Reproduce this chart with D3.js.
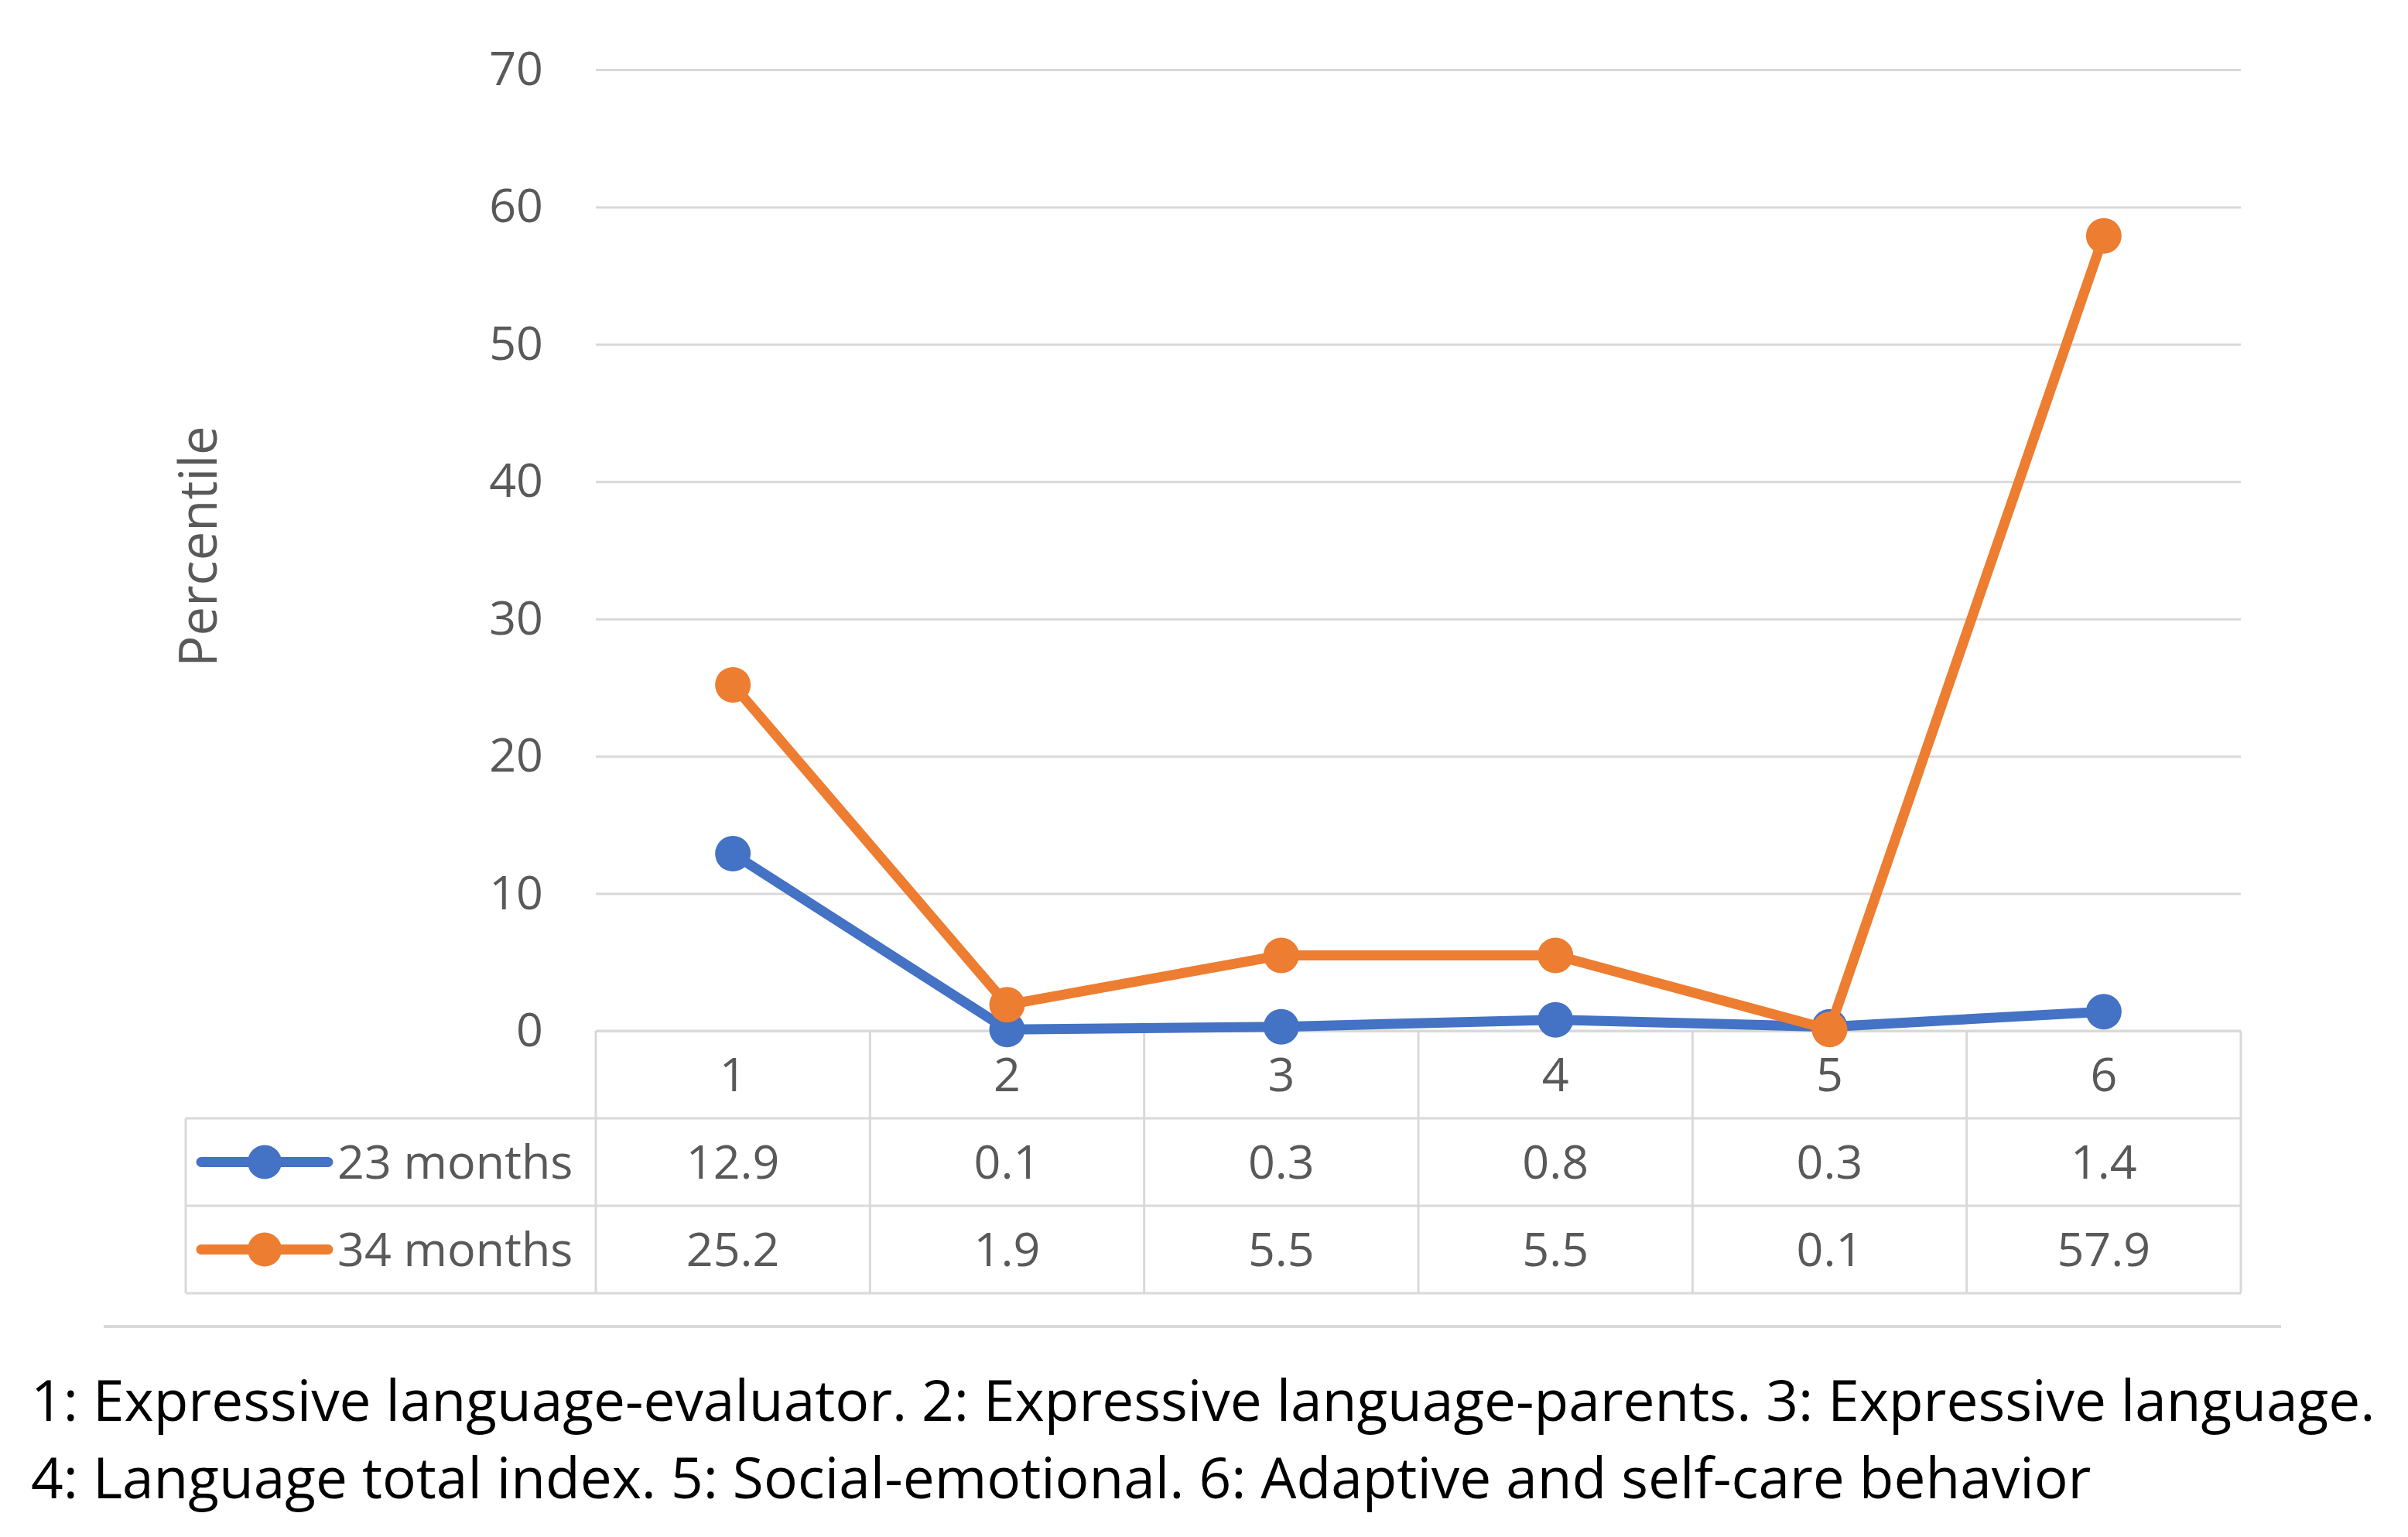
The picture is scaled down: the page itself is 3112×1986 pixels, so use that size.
<!DOCTYPE html>
<html>
<head>
<meta charset="utf-8">
<script src="https://cdn.jsdelivr.net/npm/d3@7"></script>
<style>
  body { margin: 0; background: #fff; }
  text { font-family: "Open Sans", "Noto Sans", sans-serif; }
</style>
</head>
<body>
<div id="chart"></div>
<script>
const categories = ['1', '2', '3', '4', '5', '6']
const seriesNames = ['23 months', '34 months']
const months23 = [12.9, 0.1, 0.3, 0.8, 0.3, 1.4]
const months34 = [25.2, 1.9, 5.5, 5.5, 0.1, 57.9]
const yTicks = [0, 10, 20, 30, 40, 50, 60, 70]
const footnote = [
  '1: Expressive language-evaluator. 2: Expressive language-parents. 3: Expressive language.',
  '4: Language total index. 5: Social-emotional. 6: Adaptive and self-care behavior'
]

const colors = ['#4472C4', '#ED7D31']
const series = [months23, months34]

const W = 3112, H = 1986
const margin = {top: 90, left: 770, right: 216}
const plotW = W - margin.left - margin.right
const plotH = 1332 - margin.top
const rowH = 113
const tableLeft = 240 - margin.left
const fs = '61px'

const svg = d3.select('#chart').append('svg')
  .attr('width', W)
  .attr('height', H)

const g = svg.append('g')
  .attr('transform', 'translate(' + margin.left + ',' + margin.top + ')')

const x = d3.scaleBand()
  .domain(categories)
  .range([0, plotW])
  .padding(0)

const y = d3.scaleLinear()
  .domain([0, 70])
  .range([plotH, 0])

// gridlines + y labels
const yAxis = g.append('g')
  .call(d3.axisLeft(y).tickValues(yTicks).tickSize(-plotW).tickPadding(68))
yAxis.select('.domain').remove()
yAxis.selectAll('.tick line').attr('stroke', '#D9D9D9').attr('stroke-width', 3)
yAxis.selectAll('.tick text')
  .attr('fill', '#595959')
  .style('font-size', fs)
  .style('font-family', '"Open Sans", sans-serif')

// axis title
svg.append('text')
  .attr('transform', 'translate(280,706) rotate(-90)')
  .attr('text-anchor', 'middle')
  .attr('fill', '#595959')
  .style('font-size', '67px')
  .text('Percentile')

// data table under the plot
const table = g.append('g').attr('transform', 'translate(0,' + plotH + ')')
const border = '#D9D9D9'

// horizontal lines
table.append('line').attr('x1', 0).attr('x2', plotW).attr('y1', 0).attr('y2', 0)
  .attr('stroke', border).attr('stroke-width', 3)
;[1, 2, 3].forEach(function(r) {
  table.append('line')
    .attr('x1', tableLeft).attr('x2', plotW)
    .attr('y1', r * rowH).attr('y2', r * rowH)
    .attr('stroke', border).attr('stroke-width', 3)
})
// vertical lines
table.append('line').attr('x1', tableLeft).attr('x2', tableLeft)
  .attr('y1', rowH).attr('y2', 3 * rowH).attr('stroke', border).attr('stroke-width', 3)
categories.concat(['end']).forEach(function(c, i) {
  const xx = i * x.bandwidth()
  table.append('line').attr('x1', xx).attr('x2', xx)
    .attr('y1', 0).attr('y2', 3 * rowH).attr('stroke', border).attr('stroke-width', 3)
})

// category labels
table.selectAll('.cat').data(categories).enter().append('text')
  .attr('class', 'cat')
  .attr('x', function(d) { return x(d) + x.bandwidth() / 2 })
  .attr('y', rowH / 2)
  .attr('dy', '0.35em')
  .attr('text-anchor', 'middle')
  .attr('fill', '#595959')
  .style('font-size', fs)
  .text(function(d) { return d })

series.forEach(function(vals, si) {
  const rowY = (si + 1.5) * rowH
  table.selectAll('.val' + si).data(vals).enter().append('text')
    .attr('class', 'val' + si)
    .attr('x', function(d, i) { return x(categories[i]) + x.bandwidth() / 2 })
    .attr('y', rowY)
    .attr('dy', '0.35em')
    .attr('text-anchor', 'middle')
    .attr('fill', '#595959')
    .style('font-size', fs)
    .text(function(d) { return d.toFixed(1) })

  // legend key
  const lx = tableLeft + 20
  table.append('line')
    .attr('x1', lx).attr('x2', lx + 164)
    .attr('y1', rowY).attr('y2', rowY)
    .attr('stroke', colors[si]).attr('stroke-width', 13)
    .attr('stroke-linecap', 'round')
  table.append('circle')
    .attr('cx', lx + 82).attr('cy', rowY).attr('r', 22)
    .attr('fill', colors[si])
  table.append('text')
    .attr('x', lx + 176).attr('y', rowY)
    .attr('dy', '0.35em')
    .attr('fill', '#595959')
    .style('font-size', fs)
    .text(seriesNames[si])
})

// lines + markers
const line = d3.line()
  .x(function(d, i) { return x(categories[i]) + x.bandwidth() / 2 })
  .y(function(d) { return y(d) })

series.forEach(function(vals, si) {
  g.append('path')
    .datum(vals)
    .attr('fill', 'none')
    .attr('stroke', colors[si])
    .attr('stroke-width', 13)
    .attr('stroke-linejoin', 'round')
    .attr('d', line)
  g.selectAll('.pt' + si).data(vals).enter().append('circle')
    .attr('class', 'pt' + si)
    .attr('cx', function(d, i) { return x(categories[i]) + x.bandwidth() / 2 })
    .attr('cy', function(d) { return y(d) })
    .attr('r', 23)
    .attr('fill', colors[si])
})

// separator and footnote
svg.append('line')
  .attr('x1', 134).attr('x2', 2948).attr('y1', 1714).attr('y2', 1714)
  .attr('stroke', '#D9D9D9').attr('stroke-width', 4)

svg.selectAll('.foot').data(footnote).enter().append('text')
  .attr('class', 'foot')
  .attr('x', 40)
  .attr('y', function(d, i) { return 1810 + i * 100 })
  .attr('dy', '0.35em')
  .attr('fill', '#000')
  .style('font-size', '73px')
  .text(function(d) { return d })
</script>
</body>
</html>
